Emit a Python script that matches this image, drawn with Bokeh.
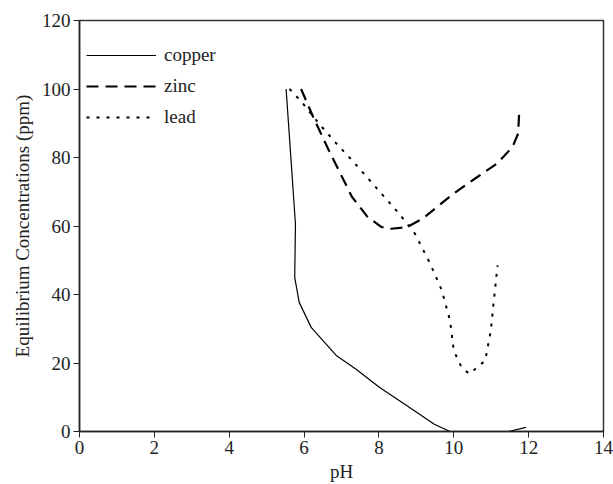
from bokeh.plotting import figure
from bokeh.embed import file_html
from bokeh.resources import INLINE
from bokeh.models import Legend, LegendItem, FixedTicker

copper_ph = [5.52, 5.66, 5.77, 5.75, 5.87, 6.19, 6.87, 7.39, 8.01, 8.75, 9.48, 9.90, 11.46, 11.93]
copper_c = [100, 78, 60.5, 45, 37.7, 30.4, 22.1, 18.2, 12.9, 7.5, 2.1, 0, 0, 1.2]

zinc_ph = [5.92, 6.24, 6.66, 6.97, 7.28, 7.70, 8.07, 8.33, 8.75, 9.16, 10.0, 10.63, 11.15, 11.57, 11.72, 11.75]
zinc_c = [100, 91.9, 82.1, 75.3, 68.5, 62.6, 59.7, 59.2, 59.7, 62.1, 69.5, 74.3, 78.2, 83.1, 87, 93.9]

lead_ph = [5.61, 5.92, 6.39, 6.87, 7.28, 7.91, 8.54, 8.96, 9.37, 9.68, 9.90, 10.0, 10.21, 10.42, 10.84, 10.99, 11.07, 11.17]
lead_c = [100, 96.4, 90, 84, 79.2, 71.4, 63.6, 57.8, 49, 41.2, 32.4, 23.6, 18.7, 16.8, 20.7, 29.5, 38.2, 48.5]

x_ticks = [0, 2, 4, 6, 8, 10, 12, 14]
y_ticks = [0, 20, 40, 60, 80, 100, 120]

FONT = "'Liberation Serif', 'Times New Roman', serif"
FS = "19px"

p = figure(width=613, height=484, output_backend="svg", toolbar_location=None,
           x_range=(0, 14), y_range=(0, 120),
           min_border_left=79, min_border_top=20, min_border_right=10, min_border_bottom=53)
p.grid.visible = False
p.outline_line_color = "#333333"
p.outline_line_width = 1.5
p.background_fill_color = "white"
p.border_fill_color = "white"

for ax in (p.xaxis[0], p.yaxis[0]):
    ax.major_label_text_font = FONT
    ax.major_label_text_font_size = FS
    ax.axis_label_text_font = FONT
    ax.axis_label_text_font_size = FS
    ax.axis_label_text_font_style = "normal"
    ax.minor_tick_line_color = None
    ax.major_tick_out = 6
    ax.major_tick_in = 0
    ax.axis_line_width = 1.5
    ax.axis_line_color = "#222222"
    ax.major_tick_line_color = "#222222"
    ax.major_label_text_color = "#222222"
    ax.axis_label_text_color = "#222222"

p.xaxis.ticker = FixedTicker(ticks=x_ticks)
p.yaxis.ticker = FixedTicker(ticks=y_ticks)
p.xaxis.axis_label = "pH"
p.yaxis.axis_label = "Equilibrium Concentrations (ppm)"
p.xaxis.axis_label_standoff = 4
p.yaxis.axis_label_standoff = 6
p.xaxis.major_label_standoff = 3
p.yaxis.major_label_standoff = 3

r1 = p.line(copper_ph, copper_c, line_color="black", line_width=1.2)
r2 = p.line(zinc_ph, zinc_c, line_color="black", line_width=2.2, line_dash="12 7")
r3 = p.line(lead_ph, lead_c, line_color="black", line_width=2, line_dash="3 7")

legend = Legend(items=[LegendItem(label="copper", renderers=[r1]),
                       LegendItem(label="zinc", renderers=[r2]),
                       LegendItem(label="lead", renderers=[r3])],
                location=(7, 303))
legend.label_text_font = FONT
legend.label_text_font_size = FS
legend.label_text_color = "#222222"
legend.border_line_color = None
legend.background_fill_alpha = 0
legend.glyph_width = 70
legend.glyph_height = 20
legend.label_height = 20
legend.spacing = 9
legend.label_standoff = 8
legend.margin = 0
legend.padding = 8
p.add_layout(legend)

open("out.html", "w").write(file_html(p, INLINE))
